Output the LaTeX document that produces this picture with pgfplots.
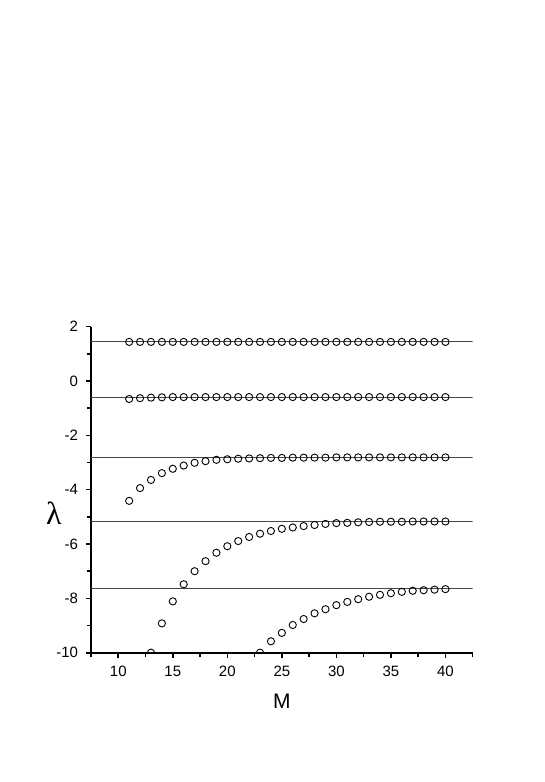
\documentclass[border=0pt]{standalone}
\usepackage{fontspec}
\setmainfont{Liberation Sans}
\newfontfamily\greekfont{Liberation Serif}
\usepackage{pgfplots}
\pgfplotsset{compat=1.18}
\pgfplotsset{
    pts/.style={black, only marks, mark=o, mark size=3.6pt, mark options={line width=0.9pt, black, fill=none}},
    lvl/.style={gray!55!black, line width=1pt, no marks},
}

\begin{document}
\begin{tikzpicture}
\useasboundingbox (-91pt,-129.3pt) rectangle (454pt,652.7pt);
\begin{axis}[
    at={(0,0)}, anchor=south west,
    scale only axis,
    width=381.7pt, height=326pt,
    xmin=7.5, xmax=42.5,
    ymin=-10, ymax=2,
    axis x line*=bottom, axis y line*=left,
    axis line style={line width=2pt, -},
    xtick={10,15,...,40},
    ytick={-10,-8,...,2},
    minor xtick={7.5,12.5,...,42.5},
    minor ytick={-9,-7,...,1},
    tick align=outside,
    major tick length=5pt, minor tick length=4pt,
    tick style={line width=1.6pt, black},
    tick label style={font=\fontsize{15}{17}\selectfont},
    /pgf/number format/assume math mode=true,
    xticklabel style={yshift=-5pt},
    yticklabel style={xshift=-4.5pt},
    xlabel={M},
    xlabel style={font=\fontsize{21}{24}\selectfont, at={(axis description cs:0.5,0)}, anchor=center, yshift=-49pt},
    ylabel={\greekfont λ},
    ylabel style={font=\fontsize{32}{34}\selectfont, rotate=-90, at={(axis description cs:0,0.427)}, anchor=center, xshift=-37pt},
    clip marker paths=true,
]
% asymptotic levels
\addplot[lvl] coordinates {(7.5,1.44) (42.5,1.44)};
\addplot[lvl] coordinates {(7.5,-0.59) (42.5,-0.59)};
\addplot[lvl] coordinates {(7.5,-2.81) (42.5,-2.81)};
\addplot[lvl] coordinates {(7.5,-5.17) (42.5,-5.17)};
\addplot[lvl] coordinates {(7.5,-7.65) (42.5,-7.65)};

\addplot[pts] coordinates {
(11,1.44) (12,1.44) (13,1.44) (14,1.44) (15,1.44) (16,1.44) (17,1.44) (18,1.44) (19,1.44) (20,1.44)
(21,1.44) (22,1.44) (23,1.44) (24,1.44) (25,1.44) (26,1.44) (27,1.44) (28,1.44) (29,1.44) (30,1.44)
(31,1.44) (32,1.44) (33,1.44) (34,1.44) (35,1.44) (36,1.44) (37,1.44) (38,1.44) (39,1.44) (40,1.44)};
\addplot[pts] coordinates {
(11,-0.66) (12,-0.63) (13,-0.61) (14,-0.60) (15,-0.59) (16,-0.59) (17,-0.59) (18,-0.59) (19,-0.59) (20,-0.59)
(21,-0.59) (22,-0.59) (23,-0.59) (24,-0.59) (25,-0.59) (26,-0.59) (27,-0.59) (28,-0.59) (29,-0.59) (30,-0.59)
(31,-0.59) (32,-0.59) (33,-0.59) (34,-0.59) (35,-0.59) (36,-0.59) (37,-0.59) (38,-0.59) (39,-0.59) (40,-0.59)};
\addplot[pts] coordinates {
(11,-4.41) (12,-3.94) (13,-3.64) (14,-3.39) (15,-3.23) (16,-3.11) (17,-3.01) (18,-2.95) (19,-2.90) (20,-2.88)
(21,-2.86) (22,-2.85) (23,-2.84) (24,-2.83) (25,-2.83) (26,-2.82) (27,-2.82) (28,-2.82) (29,-2.82) (30,-2.81)
(31,-2.81) (32,-2.81) (33,-2.81) (34,-2.81) (35,-2.81) (36,-2.81) (37,-2.81) (38,-2.81) (39,-2.81) (40,-2.81)};
\addplot[pts] coordinates {
(13,-10.0) (14,-8.92) (15,-8.11) (16,-7.48) (17,-7.00) (18,-6.63) (19,-6.32) (20,-6.08)
(21,-5.89) (22,-5.74) (23,-5.62) (24,-5.52) (25,-5.44) (26,-5.39) (27,-5.34) (28,-5.30) (29,-5.26) (30,-5.23)
(31,-5.22) (32,-5.20) (33,-5.19) (34,-5.18) (35,-5.18) (36,-5.18) (37,-5.17) (38,-5.17) (39,-5.17) (40,-5.17)};
\addplot[pts] coordinates {
(23,-10.0) (24,-9.58) (25,-9.27) (26,-8.98) (27,-8.76) (28,-8.55) (29,-8.40) (30,-8.25)
(31,-8.13) (32,-8.03) (33,-7.94) (34,-7.87) (35,-7.81) (36,-7.76) (37,-7.72) (38,-7.70) (39,-7.68) (40,-7.66)};
\end{axis}
\end{tikzpicture}
\end{document}
